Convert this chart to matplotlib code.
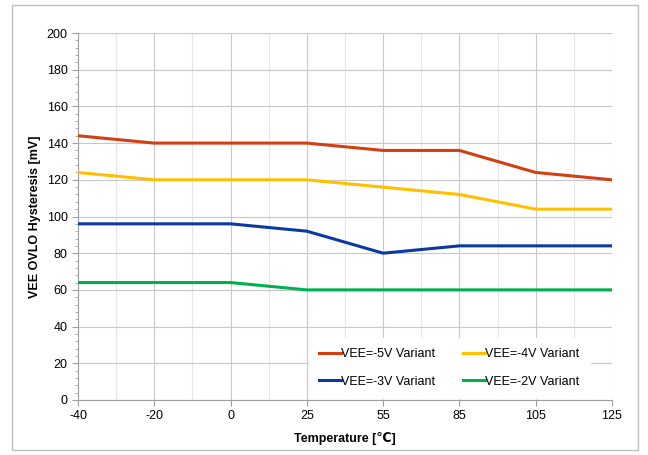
import numpy as np
import matplotlib
matplotlib.use("Agg")
import matplotlib.pyplot as plt
from matplotlib.ticker import MultipleLocator
from matplotlib.patches import Rectangle

plt.rcParams['font.family'] = ['Liberation Sans', 'DejaVu Sans']

temps = ['-40', '-20', '0', '25', '55', '85', '105', '125']
vee5 = [144, 140, 140, 140, 136, 136, 124, 120]
vee4 = [124, 120, 120, 120, 116, 112, 104, 104]
vee3 = [96, 96, 96, 92, 80, 84, 84, 84]
vee2 = [64, 64, 64, 60, 60, 60, 60, 60]
names = ['VEE=-5V Variant', 'VEE=-4V Variant', 'VEE=-3V Variant', 'VEE=-2V Variant']
colors = ['#D24012', '#FFC000', '#0A3AA0', '#00B050']

fig = plt.figure(figsize=(6.48, 4.55), dpi=100)
fig.patches.append(Rectangle((12/648, 5/455), 626/648, 445/455, transform=fig.transFigure,
                             fill=False, edgecolor='#BFBFBF', linewidth=1))
ax = fig.add_axes([78/648, 55/455, 534/648, 367/455])

x = np.arange(len(temps))
lines = []
for ys, c, n in zip([vee5, vee4, vee3, vee2], colors, names):
    l, = ax.plot(x, ys, color=c, linewidth=2.2, label=n, zorder=3)
    lines.append(l)

ax.set_xlim(0, len(temps) - 1)
ax.set_ylim(0, 200)
ax.set_xticks(x)
ax.set_xticklabels(temps)
ax.xaxis.set_minor_locator(MultipleLocator(0.5))
ax.yaxis.set_major_locator(MultipleLocator(20))
ax.yaxis.set_minor_locator(MultipleLocator(4))
ax.grid(which='major', color='#C8C8C8', linewidth=0.8)
ax.grid(which='minor', axis='x', color='#E6E6E6', linewidth=0.8)
ax.tick_params(which='major', labelsize=9, length=4, color='#A0A0A0', direction='out')
ax.tick_params(which='minor', length=2, color='#A0A0A0')
ax.tick_params(axis='x', which='minor', length=0)
for s in ['top', 'right']:
    ax.spines[s].set_visible(False)
ax.spines['left'].set_color('#A0A0A0')
ax.spines['bottom'].set_color('#A0A0A0')

ax.set_xlabel('Temperature [℃]', fontsize=9, fontweight='bold', labelpad=7)
ax.set_ylabel('VEE OVLO Hysteresis [mV]', fontsize=9, fontweight='bold')

# row-wise order: -5V, -4V / -3V, -2V
order = [0, 2, 1, 3]
leg = ax.legend([lines[i] for i in order], [names[i] for i in order],
                ncol=2, loc='center', bbox_to_anchor=(0.695, 0.088), fontsize=9,
                frameon=True, fancybox=False, edgecolor='white', framealpha=1,
                handlelength=1.75, handletextpad=0.05, columnspacing=2.2,
                borderpad=0.8, labelspacing=1.25)
leg.set_zorder(5)

fig.savefig('out.png', dpi=100)
